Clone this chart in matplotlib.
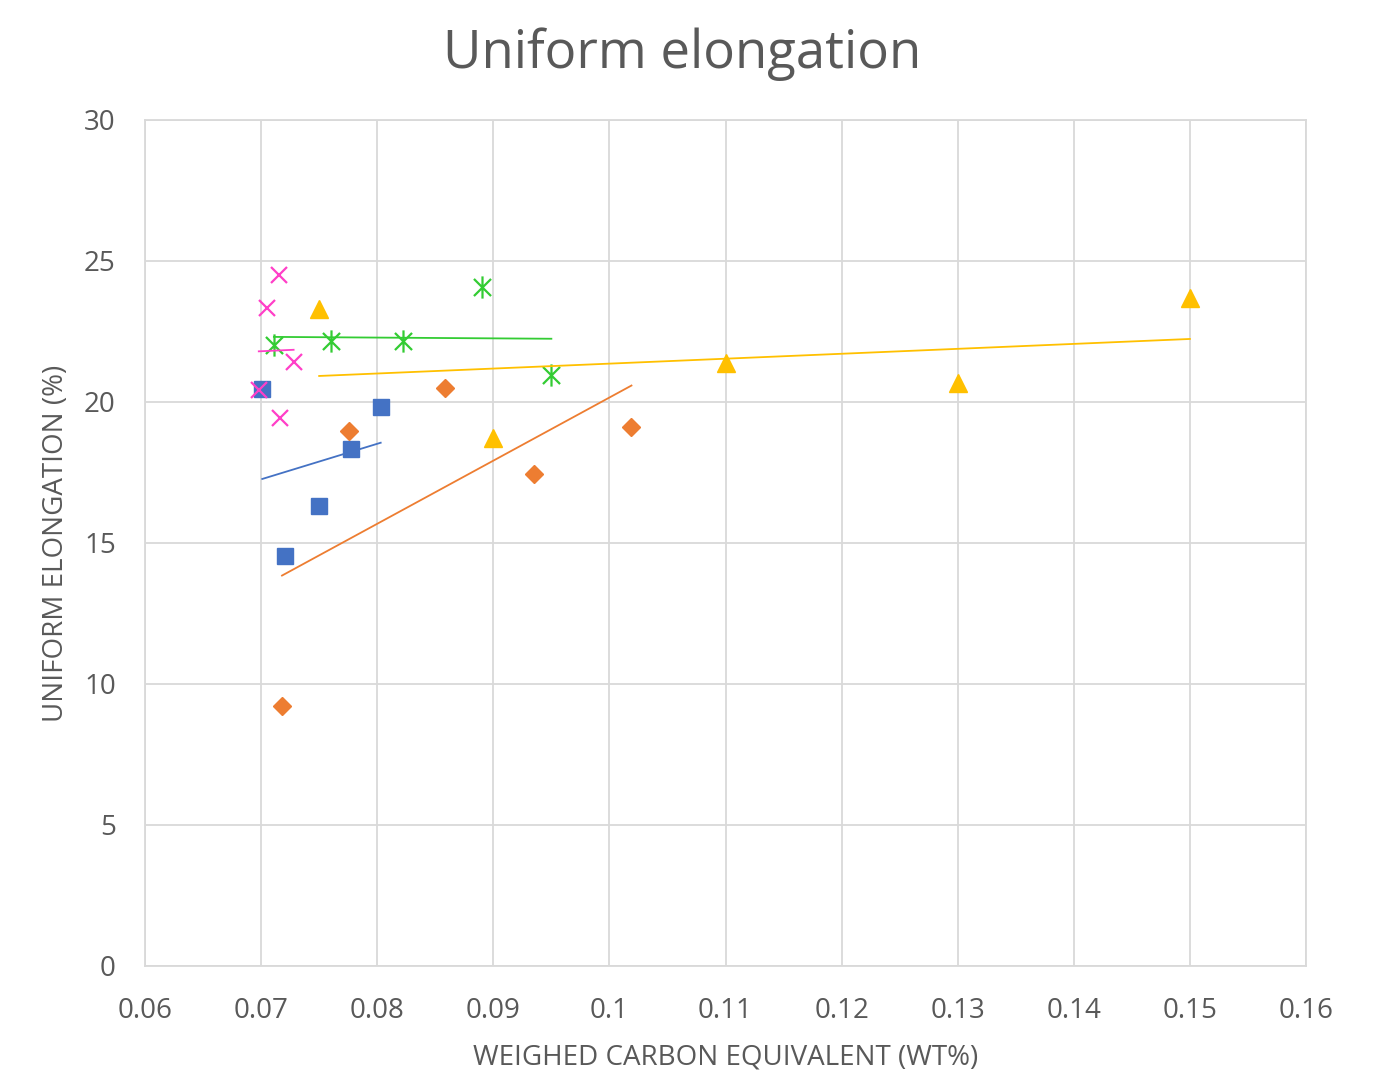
import numpy as np
import matplotlib
matplotlib.use("Agg")
import matplotlib.pyplot as plt
from matplotlib.path import Path

# Data
blue_x = [0.0701, 0.0721, 0.0750, 0.0777, 0.0803]
blue_y = [20.46, 14.54, 16.31, 18.33, 19.82]
orange_x = [0.0718, 0.0776, 0.0858, 0.0935, 0.1019]
orange_y = [9.22, 18.97, 20.50, 17.45, 19.11]
yellow_x = [0.0750, 0.0900, 0.1100, 0.1300, 0.1500]
yellow_y = [23.30, 18.72, 21.38, 20.67, 23.69]
green_x = [0.0711, 0.0760, 0.0822, 0.0890, 0.0950]
green_y = [22.02, 22.16, 22.16, 24.08, 20.96]
pink_x = [0.0715, 0.0705, 0.0728, 0.0698, 0.0716]
pink_y = [24.50, 23.33, 21.42, 20.43, 19.43]

xticks = [0.06, 0.07, 0.08, 0.09, 0.1, 0.11, 0.12, 0.13, 0.14, 0.15, 0.16]
xticklabels = ["0.06", "0.07", "0.08", "0.09", "0.1", "0.11", "0.12", "0.13", "0.14", "0.15", "0.16"]
yticks = [0, 5, 10, 15, 20, 25, 30]

plt.rcParams['font.family'] = ['Open Sans', 'DejaVu Sans']

fig = plt.figure(figsize=(13.81, 10.77), dpi=100)
ax = fig.add_axes([0.105, 0.1031, 0.8407, 0.7855])

star = Path([(-1, -1), (1, 1), (-1, 1), (1, -1), (0, -1.3), (0, 1.3)],
            [Path.MOVETO, Path.LINETO, Path.MOVETO, Path.LINETO, Path.MOVETO, Path.LINETO])

series = [
    (blue_x, blue_y, '#4472C4', 's', 12, dict()),
    (orange_x, orange_y, '#ED7D31', 'D', 9, dict()),
    (yellow_x, yellow_y, '#FFC000', '^', 13, dict()),
    (green_x, green_y, '#33CC33', star, 16, dict(markerfacecolor='none', markeredgewidth=1.6)),
    (pink_x, pink_y, '#FF3FC8', 'x', 12, dict(markeredgewidth=1.6)),
]

for xs, ys, c, m, ms, kw in series:
    ax.plot(xs, ys, linestyle='none', marker=m, markersize=ms, color=c,
            markeredgecolor=c, zorder=3, **kw)

for xs, ys, c, m, ms, kw in series:
    xa = np.array(xs); ya = np.array(ys)
    k, b = np.polyfit(xa, ya, 1)
    xl = np.array([xa.min(), xa.max()])
    ax.plot(xl, k * xl + b, color=c, linewidth=1.3, zorder=4)

ax.set_xlim(0.06, 0.16)
ax.set_ylim(0, 30)
ax.set_xticks(xticks)
ax.set_xticklabels(xticklabels)
ax.set_yticks(yticks)
ax.grid(True, color='#D9D9D9', linewidth=1.3)
ax.set_axisbelow(True)
for s in ax.spines.values():
    s.set_color('#D9D9D9')
    s.set_linewidth(1.3)
ax.tick_params(length=0, labelsize=20, colors='#595959')
ax.tick_params(axis='x', pad=22)
ax.tick_params(axis='y', pad=21)

ax.set_xlabel('WEIGHED CARBON EQUIVALENT (WT%)', fontsize=20, color='#595959', labelpad=14)
ax.set_ylabel('UNIFORM ELONGATION (%)', fontsize=20, color='#595959', labelpad=10)
fig.text(0.4939, 1 - 68 / 1077, 'Uniform elongation', fontsize=38, color='#595959',
         ha='center', va='baseline')

fig.savefig('out.png', dpi=100)
